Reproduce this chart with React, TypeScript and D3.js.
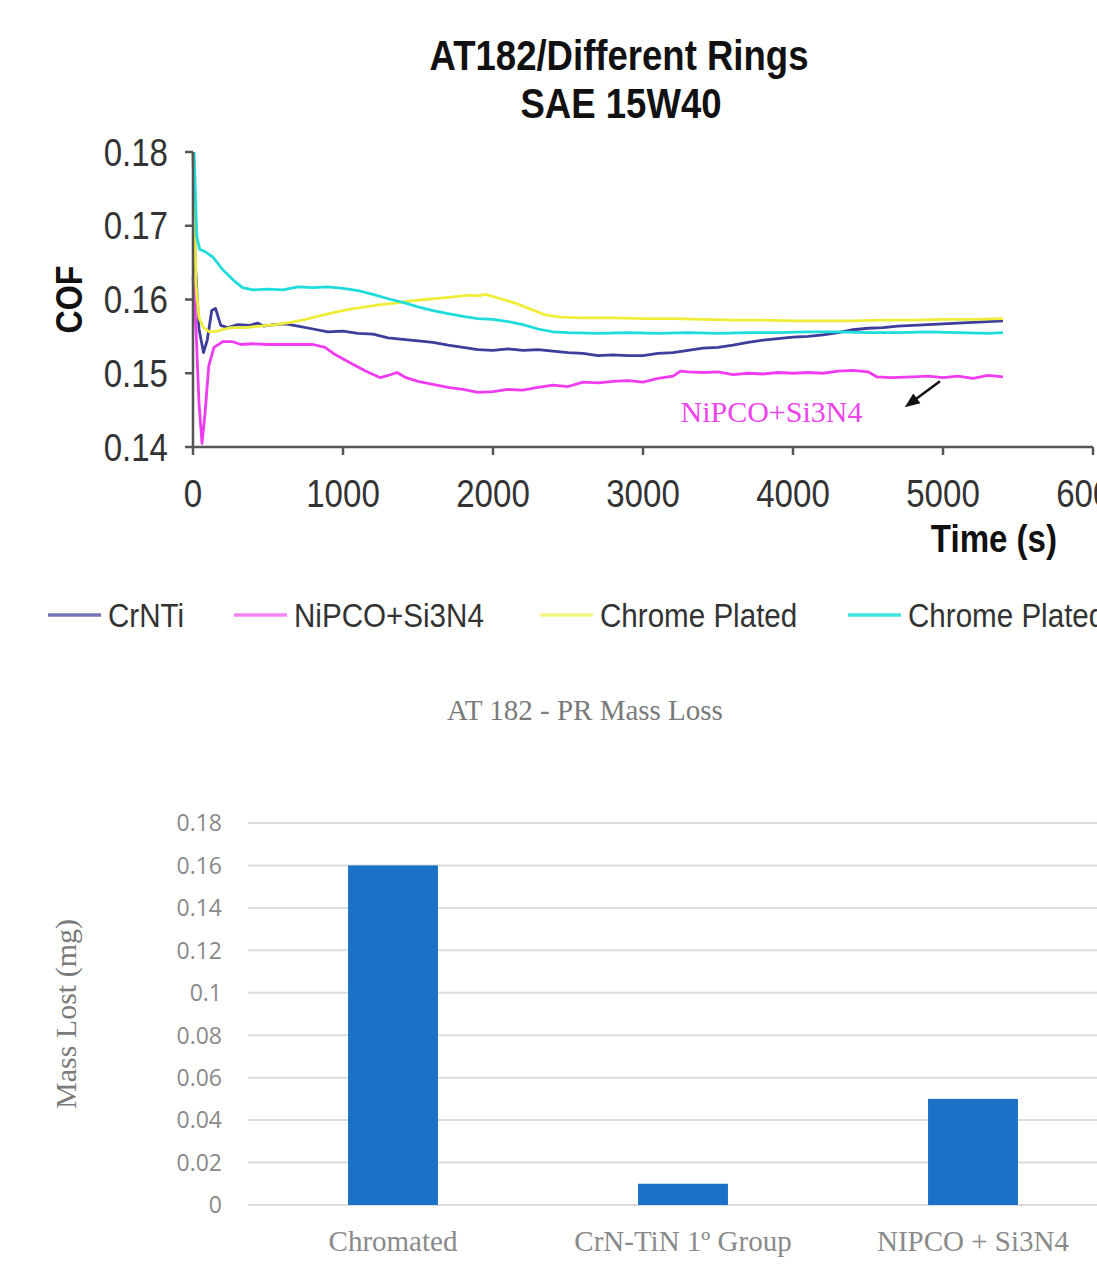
import { useEffect, useRef } from 'react';
import * as d3 from 'd3';

// ---- top chart: COF vs time (s) ----
const timeTicks = [0, 1000, 2000, 3000, 4000, 5000, 6000];
const cofTicks = [0.14, 0.15, 0.16, 0.17, 0.18];

const crnti: [number, number][] = [
  [0, 0.18], [15, 0.165], [40, 0.156], [70, 0.1528], [95, 0.1545], [125, 0.1585], [150, 0.1588],
  [185, 0.1565], [230, 0.1562], [300, 0.1566], [380, 0.1565], [430, 0.1568], [470, 0.1564],
  [540, 0.1566], [620, 0.1567], [700, 0.1564], [800, 0.156], [900, 0.1556], [1000, 0.1557],
  [1100, 0.1554], [1200, 0.1553], [1300, 0.1548], [1400, 0.1546], [1500, 0.1544], [1600, 0.1542],
  [1700, 0.1538], [1800, 0.1535], [1900, 0.1532], [2000, 0.1531], [2100, 0.1533], [2200, 0.1531],
  [2300, 0.1532], [2400, 0.153], [2500, 0.1528], [2600, 0.1527], [2700, 0.1524], [2800, 0.1525],
  [2900, 0.1524], [3000, 0.1524], [3100, 0.1527], [3200, 0.1528], [3300, 0.1531], [3400, 0.1534],
  [3500, 0.1535], [3600, 0.1538], [3700, 0.1542], [3800, 0.1545], [3900, 0.1547], [4000, 0.1549],
  [4100, 0.155], [4200, 0.1552], [4300, 0.1555], [4400, 0.1559], [4500, 0.1561], [4600, 0.1562],
  [4700, 0.1564], [4800, 0.1565], [4900, 0.1566], [5000, 0.1567], [5100, 0.1568], [5200, 0.1569],
  [5300, 0.157], [5400, 0.1571],
];

const nipco: [number, number][] = [
  [0, 0.163], [20, 0.156], [40, 0.146], [60, 0.1405], [80, 0.1445], [105, 0.151], [140, 0.1535],
  [200, 0.1543], [260, 0.1543], [320, 0.1539], [400, 0.154], [500, 0.1539], [600, 0.1539],
  [700, 0.1539], [800, 0.1539], [880, 0.1535], [950, 0.1525], [1050, 0.1514], [1150, 0.1503],
  [1250, 0.1494], [1300, 0.1497], [1360, 0.1501], [1420, 0.1494], [1500, 0.1489], [1600, 0.1485],
  [1700, 0.1481], [1800, 0.1478], [1900, 0.1474], [2000, 0.1475], [2100, 0.1478], [2200, 0.1477],
  [2300, 0.1481], [2400, 0.1484], [2500, 0.1482], [2600, 0.1488], [2700, 0.1487], [2800, 0.1489],
  [2900, 0.149], [3000, 0.1488], [3100, 0.1493], [3200, 0.1496], [3250, 0.1503], [3300, 0.1502],
  [3400, 0.1501], [3500, 0.1502], [3600, 0.1498], [3700, 0.15], [3800, 0.1499], [3900, 0.1501],
  [4000, 0.15], [4100, 0.1501], [4200, 0.15], [4300, 0.1503], [4400, 0.1504], [4500, 0.1502],
  [4560, 0.1495], [4650, 0.1494], [4800, 0.1495], [4900, 0.1496], [5000, 0.1494], [5100, 0.1496],
  [5200, 0.1493], [5300, 0.1497], [5400, 0.1495],
];

const chromeA: [number, number][] = [
  [0, 0.18], [20, 0.162], [40, 0.1575], [70, 0.1562], [110, 0.1556], [160, 0.1557], [250, 0.1562],
  [350, 0.1562], [450, 0.1564], [550, 0.1566], [650, 0.1569], [750, 0.1573], [850, 0.1578],
  [950, 0.1583], [1050, 0.1587], [1150, 0.159], [1250, 0.1593], [1350, 0.1595], [1450, 0.1598],
  [1550, 0.16], [1650, 0.1602], [1750, 0.1604], [1850, 0.1606], [1900, 0.1605], [1950, 0.1607],
  [2050, 0.1601], [2150, 0.1595], [2250, 0.1587], [2350, 0.1579], [2450, 0.1576], [2600, 0.1575],
  [2800, 0.1575], [3000, 0.1574], [3200, 0.1574], [3400, 0.1573], [3600, 0.1572], [3800, 0.1572],
  [4000, 0.1571], [4200, 0.1571], [4400, 0.1571], [4600, 0.1572], [4800, 0.1572], [5000, 0.1573],
  [5200, 0.1573], [5400, 0.1574],
];

const chromeB: [number, number][] = [
  [0, 0.185], [25, 0.1685], [45, 0.1668], [80, 0.1665], [130, 0.1658], [200, 0.164], [270, 0.1626],
  [330, 0.1616], [400, 0.1613], [500, 0.1614], [600, 0.1613], [700, 0.1617], [800, 0.1616],
  [900, 0.1617], [1000, 0.1615], [1100, 0.1612], [1200, 0.1607], [1300, 0.1601], [1400, 0.1596],
  [1500, 0.159], [1600, 0.1585], [1700, 0.1581], [1800, 0.1577], [1900, 0.1574], [2000, 0.1573],
  [2100, 0.157], [2200, 0.1566], [2300, 0.156], [2400, 0.1556], [2500, 0.1555], [2700, 0.1554],
  [2900, 0.1555], [3100, 0.1554], [3300, 0.1555], [3500, 0.1554], [3700, 0.1555], [3900, 0.1555],
  [4100, 0.1556], [4300, 0.1556], [4500, 0.1555], [4700, 0.1555], [4900, 0.1556], [5100, 0.1555],
  [5300, 0.1554], [5400, 0.1555],
];

const seriesNames = ['CrNTi', 'NiPCO+Si3N4', 'Chrome Plated', 'Chrome Plated'];
const seriesData = [crnti, nipco, chromeA, chromeB];
const seriesColors = ['#3d3d9c', '#f03cf0', '#eeee3a', '#1fdcdc'];
const legendColors = ['#7676b4', '#f486f4', '#f4f482', '#3ee6e6'];

// annotation: label and arrow, in data units
const noteLabel = 'NiPCO+Si3N4';
const notePos: [number, number] = [3250, 0.1434];
const arrowFrom: [number, number] = [4980, 0.1489];
const arrowTo: [number, number] = [4745, 0.1454];

// ---- bottom chart: mass loss ----
const massCategories = ['Chromated', 'CrN-TiN 1º Group', 'NIPCO + Si3N4'];
const massValues = [0.16, 0.01, 0.05];
const massTicks = [0, 0.02, 0.04, 0.06, 0.08, 0.1, 0.12, 0.14, 0.16, 0.18];

const W = 1097;
const H = 1271;

export default function App() {
  const svgRef = useRef<SVGSVGElement>(null);

  useEffect(() => {
    if (!svgRef.current) return;
    const svg = d3.select(svgRef.current);
    svg.selectAll('*').remove();

    const sans = "'Liberation Sans', Arial, sans-serif";
    const serif = "'Liberation Serif', 'Times New Roman', serif";
    const squeeze = 0.87; // old excel chart font looks narrow

    // narrow sans text, squeezed horizontally
    const narrow = (
      px: number, py: number, str: string,
      size: number, opts: { anchor?: string; bold?: boolean; fill?: string; rotate?: number; dy?: string } = {}
    ) => {
      svg.append('text')
        .attr('transform', `translate(${px},${py}) rotate(${opts.rotate || 0}) scale(${squeeze},1)`)
        .attr('text-anchor', opts.anchor || 'start')
        .attr('dy', opts.dy || null)
        .attr('font-family', sans)
        .attr('font-weight', opts.bold ? 'bold' : 'normal')
        .attr('font-size', size)
        .attr('fill', opts.fill || '#333')
        .text(str);
    };

    // ================= top chart =================
    const x = d3.scaleLinear().domain([0, 6000]).range([193, 1093]);
    const y = d3.scaleLinear().domain([0.14, 0.18]).range([447, 152]);

    narrow(619, 70, 'AT182/Different Rings', 42, { anchor: 'middle', bold: true, fill: '#111' });
    narrow(621, 118, 'SAE 15W40', 42, { anchor: 'middle', bold: true, fill: '#111' });

    svg.append('defs').append('clipPath').attr('id', 'plotClip')
      .append('rect')
      .attr('x', 190).attr('y', y(0.18))
      .attr('width', 910).attr('height', y(0.14) - y(0.18));

    const line = d3.line<[number, number]>()
      .x(d => x(d[0]))
      .y(d => y(d[1]));

    const lines = svg.append('g').attr('clip-path', 'url(#plotClip)');
    seriesData.forEach((s, i) => {
      lines.append('path')
        .attr('d', line(s))
        .attr('fill', 'none')
        .attr('stroke', seriesColors[i])
        .attr('stroke-width', 2.8)
        .attr('stroke-linejoin', 'round');
    });

    const axisColor = '#555';
    // y axis
    svg.append('line')
      .attr('x1', x(0)).attr('x2', x(0))
      .attr('y1', y(0.18)).attr('y2', y(0.14))
      .attr('stroke', axisColor).attr('stroke-width', 2.5);
    cofTicks.forEach(t => {
      svg.append('line')
        .attr('x1', x(0) - 8).attr('x2', x(0))
        .attr('y1', y(t)).attr('y2', y(t))
        .attr('stroke', axisColor).attr('stroke-width', 2.5);
      narrow(168, y(t), t.toFixed(2), 38, { anchor: 'end', dy: '0.36em' });
    });
    // x axis
    svg.append('line')
      .attr('x1', x(0)).attr('x2', x(6000))
      .attr('y1', y(0.14)).attr('y2', y(0.14))
      .attr('stroke', axisColor).attr('stroke-width', 2.5);
    timeTicks.forEach(t => {
      svg.append('line')
        .attr('x1', x(t)).attr('x2', x(t))
        .attr('y1', y(0.14)).attr('y2', y(0.14) + 8)
        .attr('stroke', axisColor).attr('stroke-width', 2.5);
      narrow(x(t), y(0.14) + 60, String(t), 38, { anchor: 'middle' });
    });

    narrow(82, y(0.16), 'COF', 37, { anchor: 'middle', bold: true, fill: '#111', rotate: -90 });
    narrow(1057, 552, 'Time (s)', 38, { anchor: 'end', bold: true, fill: '#111' });

    // annotation
    svg.append('text')
      .attr('x', x(notePos[0])).attr('y', y(notePos[1]))
      .attr('font-family', serif).attr('font-size', 30)
      .attr('fill', '#ee44ee')
      .text(noteLabel);
    const ax1 = x(arrowFrom[0]), ay1 = y(arrowFrom[1]);
    const ax2 = x(arrowTo[0]), ay2 = y(arrowTo[1]);
    const ang = Math.atan2(ay2 - ay1, ax2 - ax1);
    const head = 15;
    svg.append('line')
      .attr('x1', ax1).attr('y1', ay1)
      .attr('x2', ax2 - Math.cos(ang) * head * 0.7).attr('y2', ay2 - Math.sin(ang) * head * 0.7)
      .attr('stroke', '#111').attr('stroke-width', 2.5);
    const hx = ax2 - Math.cos(ang) * head, hy = ay2 - Math.sin(ang) * head;
    const px = Math.sin(ang) * 6, py = -Math.cos(ang) * 6;
    svg.append('path')
      .attr('d', `M${ax2},${ay2}L${hx + px},${hy + py}L${hx - px},${hy - py}Z`)
      .attr('fill', '#111');

    // legend
    const legendX = [48, 234, 540, 848];
    const legendY = 615;
    seriesNames.forEach((name, i) => {
      svg.append('line')
        .attr('x1', legendX[i]).attr('x2', legendX[i] + 53)
        .attr('y1', legendY).attr('y2', legendY)
        .attr('stroke', legendColors[i]).attr('stroke-width', 3.5);
      narrow(legendX[i] + 60, legendY + 12, name, 34);
    });

    // ================= bottom chart =================
    const yb = d3.scaleLinear().domain([0, 0.18]).range([1205, 823]);
    const xb = d3.scaleBand<string>().domain(massCategories).range([248, 1118]).padding(0);
    const grey = '#8a8a8a';

    svg.append('text')
      .attr('x', 585).attr('y', 720)
      .attr('text-anchor', 'middle')
      .attr('font-family', serif).attr('font-size', 29)
      .attr('fill', '#7a7a7a')
      .text('AT 182 - PR Mass Loss');

    massTicks.forEach(t => {
      svg.append('line')
        .attr('x1', 248).attr('x2', 1118)
        .attr('y1', yb(t)).attr('y2', yb(t))
        .attr('stroke', '#dcdcdc').attr('stroke-width', 2);
      svg.append('text')
        .attr('x', 222).attr('y', yb(t))
        .attr('dy', '0.36em')
        .attr('text-anchor', 'end')
        .attr('font-family', "'Open Sans', 'Noto Sans', sans-serif").attr('font-size', 23)
        .attr('fill', grey)
        .text(String(+t.toFixed(2)));
    });

    const barW = xb.bandwidth() * 0.31;
    massCategories.forEach((c, i) => {
      const cx = (xb(c) as number) + xb.bandwidth() / 2;
      svg.append('rect')
        .attr('x', cx - barW / 2).attr('y', yb(massValues[i]))
        .attr('width', barW).attr('height', yb(0) - yb(massValues[i]))
        .attr('fill', '#1a71c6');
      svg.append('text')
        .attr('x', cx).attr('y', 1251)
        .attr('text-anchor', 'middle')
        .attr('font-family', serif).attr('font-size', 29)
        .attr('fill', grey)
        .text(c);
    });

    svg.append('text')
      .attr('transform', `translate(76, ${(yb(0) + yb(0.18)) / 2}) rotate(-90)`)
      .attr('text-anchor', 'middle')
      .attr('font-family', serif).attr('font-size', 30)
      .attr('fill', '#7a7a7a')
      .text('Mass Lost (mg)');
  }, []);

  return (
    <svg
      ref={svgRef}
      width={W}
      height={H}
      style={{ position: 'absolute', left: 0, top: 0, background: '#fff', display: 'block' }}
    />
  );
}
